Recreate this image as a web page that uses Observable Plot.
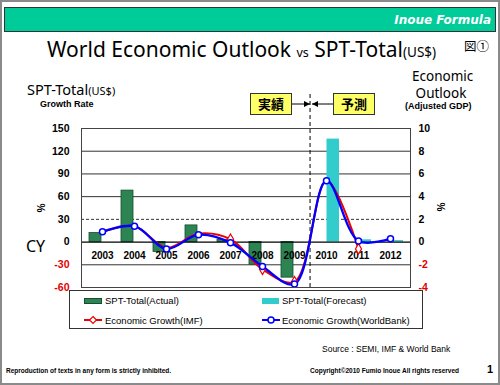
<!DOCTYPE html>
<html><head><meta charset="utf-8">
<script src="https://cdn.jsdelivr.net/npm/d3@7"></script>
<script src="https://cdn.jsdelivr.net/npm/@observablehq/plot@0.6"></script>
<style>
body{margin:0;background:#fff;}
#wrap{position:relative;width:500px;height:385px;overflow:hidden;font-family:"Liberation Sans",Arial,sans-serif;color:#000;background:#fff;}
.abs{position:absolute;white-space:nowrap;line-height:1;}
#chart{position:absolute;left:0;top:0;}
</style></head><body>
<div id="wrap">
  <div class="abs" style="left:0;top:0;width:496px;height:381px;border:2px solid #8a8a8a;"></div>
  <div class="abs" style="left:4px;top:7px;width:490px;height:23px;background:#00cc99;border:1px solid #333;"></div>
  <div class="abs" style="right:9px;top:14px;color:#fff;font-style:italic;font-weight:bold;font-size:12px;font-family:'DejaVu Sans',sans-serif;">Inoue Formula</div>
  <div class="abs" style="left:47px;top:39px;font-family:'Noto Sans',sans-serif;font-size:21px;">World Economic Outlook <span style="font-size:12.5px">vs</span> SPT-Total<span style="font-size:13.5px">(US$)</span></div>
  <div class="abs" style="left:464px;top:40px;font-family:'Noto Sans CJK JP',sans-serif;font-size:12.5px;">図①</div>

  <div class="abs" style="left:27px;top:82px;font-family:'Noto Sans',sans-serif;font-size:14.5px;">SPT-Total<span style="font-size:11px">(US$)</span></div>
  <div class="abs" style="left:40px;top:100px;font-weight:bold;font-size:9px;">Growth Rate</div>
  <div class="abs" style="left:412px;top:70px;font-family:'Noto Sans',sans-serif;font-size:13.5px;width:58px;text-align:center;">Economic</div>
  <div class="abs" style="left:412px;top:87px;font-family:'Noto Sans',sans-serif;font-size:13.5px;width:58px;text-align:center;">Outlook</div>
  <div class="abs" style="left:405px;top:102px;font-weight:bold;font-size:9px;">(Adjusted GDP)</div>
  <div class="abs" style="left:26px;top:238px;font-family:'Noto Sans',sans-serif;font-size:16px;">CY</div>
  <div class="abs" style="left:36px;top:203px;font-weight:bold;font-size:10px;transform:rotate(90deg);">%</div>
  <div class="abs" style="left:436px;top:202px;font-weight:bold;font-size:10px;transform:rotate(90deg);">%</div>

  <div id="chart"></div>

  <div class="abs" style="left:250px;top:93px;width:40px;height:20px;background:#ffff66;border:1px solid #333;font-family:'Noto Sans CJK JP',sans-serif;font-weight:bold;font-size:13px;text-align:center;line-height:20px;">実績</div>
  <div class="abs" style="left:333px;top:93px;width:40px;height:20px;background:#ffff66;border:1px solid #333;font-family:'Noto Sans CJK JP',sans-serif;font-weight:bold;font-size:13px;text-align:center;line-height:20px;">予測</div>
  <svg class="abs" style="left:0;top:0" width="500" height="385">
    <defs><marker id="ah" viewBox="0 0 6 6" refX="6" refY="3" markerWidth="6" markerHeight="6" orient="auto"><path d="M0,0L6,3L0,6z" fill="#000"/></marker></defs>
    <line x1="292" y1="104" x2="310" y2="104" stroke="#000" stroke-width="1" marker-end="url(#ah)"/>
    <line x1="333" y1="104" x2="312" y2="104" stroke="#000" stroke-width="1" marker-end="url(#ah)"/>
  </svg>

  <div class="abs" style="left:69px;top:290px;width:352px;height:37px;background:#fff;border:1px solid #333;"></div>
  <svg class="abs" style="left:0;top:0" width="500" height="385">
    <rect x="84.5" y="298.5" width="17" height="5" fill="#2b8452" stroke="#174d2f"/>
    <rect x="262" y="298" width="17" height="6" fill="#33cccc"/>
    <line x1="84" y1="320" x2="102" y2="320" stroke="#e00" stroke-width="2"/>
    <path d="M93,316.5L96.5,320L93,323.5L89.5,320Z" fill="#fff" stroke="#e00" stroke-width="1.2"/>
    <line x1="262" y1="320" x2="280" y2="320" stroke="#00f" stroke-width="2"/>
    <circle cx="271" cy="320" r="3" fill="#fff" stroke="#00f" stroke-width="1.5"/>
  </svg>
  <div class="abs" style="left:105px;top:296px;font-size:9.5px;">SPT-Total(Actual)</div>
  <div class="abs" style="left:282px;top:296px;font-size:9.5px;">SPT-Total(Forecast)</div>
  <div class="abs" style="left:105px;top:316px;font-size:9.5px;">Economic Growth(IMF)</div>
  <div class="abs" style="left:282px;top:316px;font-size:9.5px;">Economic Growth(WorldBank)</div>

  <div class="abs" style="left:322px;top:345px;font-size:8.5px;">Source : SEMI, IMF &amp; World Bank</div>
  <div class="abs" style="left:6px;top:368px;font-size:6.5px;font-weight:bold;">Reproduction of texts in any form is strictly inhibited.</div>
  <div class="abs" style="left:310px;top:368px;font-size:6.5px;font-weight:bold;">Copyright©2010 Fumio Inoue All rights reserved</div>
  <div class="abs" style="left:487px;top:364px;font-size:11px;font-weight:bold;">1</div>
</div>
<script>
// ---- data ----
const years = ["2003","2004","2005","2006","2007","2008","2009","2010","2011","2012"];
const sptActual = [12, 68, -13, 22, 3, -30, -47, null, null, null];     // %
const sptForecast = [null, null, null, null, null, null, null, 136, 3, 2]; // %
const imfGrowth = [0.9, 1.4, -0.5, 0.75, 0.25, -2.4, -3.5, 5.4, -0.6, null]; // %
const wbGrowth = [0.9, 1.4, -0.6, 0.65, -0.05, -2.15, -3.7, 5.4, 0.1, 0.3]; // %
const leftTicks = [150, 120, 90, 60, 30, 0, -30, -60];
const rightTicks = [10, 8, 6, 4, 2, 0, -2, -4];

const RATIO = 15; // left axis value per right axis unit (150/10)
const rows = years.map((y, i) => ({year: y, actual: sptActual[i], forecast: sptForecast[i], imf: imfGrowth[i], wb: wbGrowth[i]}));
const imfRows = rows.filter(d => d.imf != null);
const wbRows = rows.filter(d => d.wb != null);
const imfMarked = ["2007", "2008", "2009", "2011"];
const mL = 81, mR = 90, W = 500;
const bw = (W - mL - mR) / years.length;

const tickFont = {fontWeight: "bold", fontSize: 10.5, fontFamily: "Liberation Sans, Arial, sans-serif"};

const chart = Plot.plot({
  width: W, height: 385,
  marginLeft: mL, marginRight: mR, marginTop: 128, marginBottom: 98,
  x: {type: "band", domain: years, padding: 0, axis: null},
  y: {domain: [-60, 150], axis: null},
  color: {type: "identity"},
  style: {background: "transparent", overflow: "visible"},
  marks: [
    Plot.ruleY([120, 90, 60, -30], {stroke: "#333", strokeWidth: 1}),
    Plot.ruleY([30], {stroke: "#333", strokeDasharray: "3,2"}),
    Plot.barY(rows.filter(d => d.actual != null), {x: "year", y: "actual", fill: "#2b8452", stroke: "#174d2f", strokeWidth: 0.8, insetLeft: 3, insetRight: 17}),
    Plot.barY(rows.filter(d => d.forecast != null), {x: "year", y: "forecast", fill: "#33cccc", insetLeft: 16.5, insetRight: 3}),
    Plot.ruleY([0], {stroke: "#000", strokeWidth: 1.3}),
    Plot.text(years, {x: d => d, y: () => 0, dy: 14, text: d => d, ...tickFont, fontSize: 10}),
    Plot.ruleX(["2010"], {y1: () => -60, y2: () => 195, dx: -bw / 2, stroke: "#000", strokeDasharray: "4,3"}),
    Plot.line(imfRows, {x: "year", y: d => d.imf * RATIO, curve: "catmull-rom", stroke: "#ee0000", strokeWidth: 2}),
    Plot.line(wbRows, {x: "year", y: d => d.wb * RATIO, curve: "catmull-rom", stroke: "#0000ff", strokeWidth: 2.3}),
    Plot.dot(imfRows.filter(d => imfMarked.includes(d.year)), {x: "year", y: d => d.imf * RATIO, symbol: "diamond", r: 3.2, fill: "#fff", stroke: "#ee0000", strokeWidth: 1.2}),
    Plot.dot(wbRows, {x: "year", y: d => d.wb * RATIO, r: 3, fill: "#fff", stroke: "#0000ff", strokeWidth: 1.5}),
    Plot.frame({stroke: "#444"}),
    Plot.text(leftTicks, {y: d => d, text: d => String(d), frameAnchor: "left", dx: -12, textAnchor: "end", fill: d => d < 0 ? "#e00000" : "#000", ...tickFont}),
    Plot.text(rightTicks, {y: d => d * RATIO, text: d => String(d), frameAnchor: "right", dx: 8, textAnchor: "start", fill: d => d < 0 ? "#e00000" : "#000", ...tickFont})
  ]
});
document.getElementById("chart").appendChild(chart);
</script>
</body></html>
